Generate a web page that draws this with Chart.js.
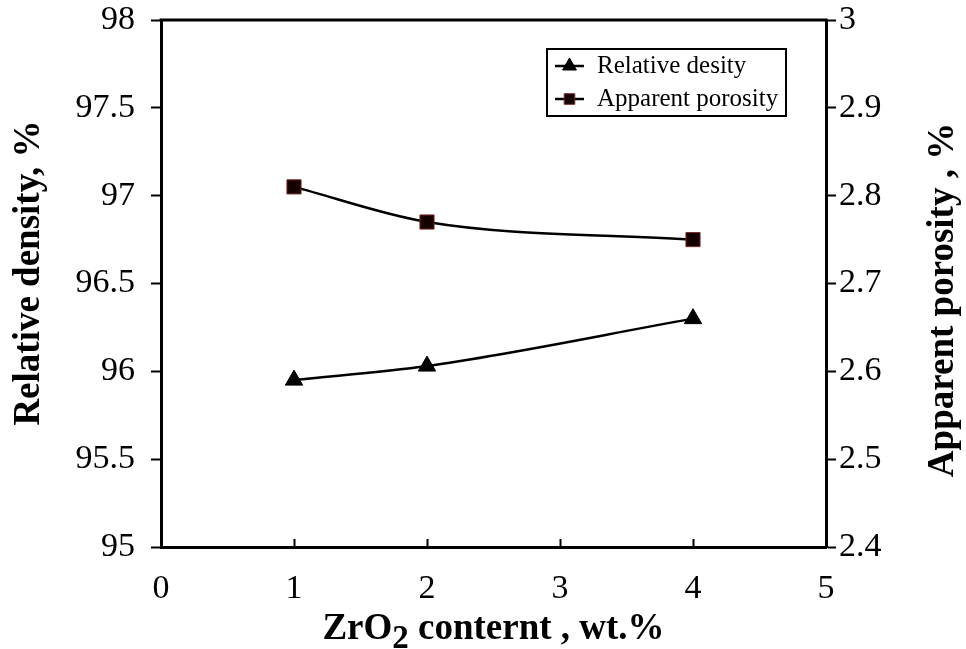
<!DOCTYPE html>
<html><head><meta charset="utf-8">
<script src="https://cdn.jsdelivr.net/npm/chart.js@4.4.1/dist/chart.umd.min.js"></script>
<style>html,body{margin:0;padding:0;background:#fff;} #wrap{width:966px;height:649px;position:relative;}</style>
</head><body><div id="wrap"><canvas id="c" width="966" height="649"></canvas></div>
<script>
const zrO2Content = [1, 2, 4];
const relativeDensity = [95.95, 96.03, 96.30];
const apparentPorosity = [2.81, 2.77, 2.75];
const xTicks = [0, 1, 2, 3, 4, 5];
const xTickLabels = ['0', '1', '2', '3', '4', '5'];
const densityTicks = [95, 95.5, 96, 96.5, 97, 97.5, 98];
const densityTickLabels = ['95', '95.5', '96', '96.5', '97', '97.5', '98'];
const porosityTicks = [2.4, 2.5, 2.6, 2.7, 2.8, 2.9, 3];
const porosityTickLabels = ['2.4', '2.5', '2.6', '2.7', '2.8', '2.9', '3'];
const seriesLabels = ['Relative desity', 'Apparent porosity'];
const yTitle = 'Relative density, %';
const y2Title = 'Apparent porosity , %';
const xTitleParts = ['ZrO', '2', ' conternt , wt.%'];

const FONT = "'Liberation Serif', 'Times New Roman', serif";
const tickFont = {family: FONT, size: 34};

const pts = (xs, ys) => xs.map((x, i) => ({x: x, y: ys[i]}));

const frame = {
  id: 'frame',
  afterDraw(chart) {
    const ctx = chart.ctx, a = chart.chartArea;
    const xs = chart.scales.x;
    ctx.save();
    ctx.strokeStyle = '#000';
    ctx.lineWidth = 3;
    ctx.beginPath();
    ctx.moveTo(a.left - 1.5, a.top);
    ctx.lineTo(a.right + 1.5, a.top);
    ctx.stroke();
    // inward x ticks
    ctx.lineWidth = 2;
    xTicks.forEach(v => {
      if (v === xs.min || v === xs.max) return;
      const px = Math.round(xs.getPixelForValue(v)) + 0.5;
      ctx.beginPath();
      ctx.moveTo(px, a.bottom);
      ctx.lineTo(px, a.bottom - 8);
      ctx.stroke();
    });
    // titles
    ctx.fillStyle = '#000';
    ctx.font = "bold 37px " + FONT;
    ctx.textAlign = 'center';
    ctx.textBaseline = 'middle';
    ctx.save();
    ctx.translate(29, 273);
    ctx.rotate(-Math.PI / 2);
    ctx.fillText(yTitle, 0, 0);
    ctx.restore();
    ctx.save();
    ctx.translate(943, 300);
    ctx.rotate(-Math.PI / 2);
    ctx.fillText(y2Title, 0, 0);
    ctx.restore();
    // x title with subscript
    ctx.textBaseline = 'alphabetic';
    ctx.textAlign = 'left';
    const mainF = "bold 37px " + FONT, subF = "bold 33px " + FONT;
    ctx.font = mainF; const w1 = ctx.measureText(xTitleParts[0]).width;
    ctx.font = subF; const w2 = ctx.measureText(xTitleParts[1]).width;
    ctx.font = mainF; const w3 = ctx.measureText(xTitleParts[2]).width;
    const cx = (a.left + a.right) / 2;
    let x0 = cx - (w1 + w2 + w3) / 2;
    const base = 639;
    ctx.font = mainF; ctx.fillText(xTitleParts[0], x0, base);
    ctx.font = subF; ctx.fillText(xTitleParts[1], x0 + w1, base + 9);
    ctx.font = mainF; ctx.fillText(xTitleParts[2], x0 + w1 + w2, base);
    // legend
    const lx = 547, ly = 49, lw = 239, lh = 67;
    ctx.lineWidth = 2;
    ctx.strokeStyle = '#000';
    ctx.strokeRect(lx, ly, lw, lh);
    ctx.font = "25px " + FONT;
    ctx.textBaseline = 'middle';
    const rows = [66, 99];
    chart.data.datasets.forEach((ds, i) => {
      const yy = rows[i];
      ctx.strokeStyle = '#000';
      ctx.lineWidth = 2.5;
      ctx.beginPath();
      ctx.moveTo(555, yy);
      ctx.lineTo(584, yy);
      ctx.stroke();
      ctx.fillStyle = ds.pointBackgroundColor;
      ctx.strokeStyle = ds.pointBorderColor;
      ctx.lineWidth = 1;
      Chart.helpers.drawPoint(ctx, {pointStyle: ds.pointStyle, radius: ds.pointStyle === 'triangle' ? 8 : 7.5, rotation: 0, borderWidth: 1}, 569.5, yy);
      ctx.fillStyle = '#000';
      ctx.fillText(ds.label, 597, yy);
    });
    ctx.restore();
  }
};

const fixV = w => s => { s.width = w; s.paddingTop = 20; s.paddingBottom = 0; };

new Chart(document.getElementById('c'), {
  type: 'line',
  data: {
    datasets: [
      {
        label: seriesLabels[0],
        data: pts(zrO2Content, relativeDensity),
        yAxisID: 'y',
        borderColor: '#000',
        borderWidth: 2.5,
        pointStyle: 'triangle',
        pointRadius: 10,
        pointBackgroundColor: '#000',
        pointBorderColor: '#000',
        pointBorderWidth: 1,
        cubicInterpolationMode: 'monotone',
        fill: false
      },
      {
        label: seriesLabels[1],
        data: pts(zrO2Content, apparentPorosity),
        yAxisID: 'y2',
        borderColor: '#000',
        borderWidth: 2.5,
        pointStyle: 'rect',
        pointRadius: 10,
        pointBackgroundColor: '#150000',
        pointBorderColor: '#7a2a2a',
        pointBorderWidth: 1,
        cubicInterpolationMode: 'monotone',
        fill: false
      }
    ]
  },
  options: {
    responsive: false,
    animation: false,
    devicePixelRatio: 1,
    layout: {padding: {top: 20, left: 0, right: 0, bottom: 0}},
    plugins: {legend: {display: false}, tooltip: {enabled: false}, title: {display: false}},
    scales: {
      x: {
        type: 'linear', position: 'bottom', min: 0, max: 5,
        afterBuildTicks: s => { s.ticks = xTicks.map(v => ({value: v})); },
        afterFit: s => { s.height = 102; s.paddingLeft = 0; s.paddingRight = 0; },
        ticks: {font: tickFont, color: '#000', padding: 22, maxRotation: 0, autoSkip: false,
                callback: (v, i) => xTickLabels[i]},
        grid: {drawOnChartArea: false, drawTicks: false, display: true},
        border: {display: true, color: '#000', width: 3}
      },
      y: {
        type: 'linear', position: 'left', min: 95, max: 98,
        afterBuildTicks: s => { s.ticks = densityTicks.map(v => ({value: v})); },
        afterFit: fixV(161),
        ticks: {font: tickFont, color: '#000', padding: 16, autoSkip: false,
                callback: (v, i) => densityTickLabels[i]},
        grid: {drawOnChartArea: false, tickLength: 10, tickColor: '#000', tickWidth: 2},
        border: {display: true, color: '#000', width: 3}
      },
      y2: {
        type: 'linear', position: 'right', min: 2.4, max: 3,
        afterBuildTicks: s => { s.ticks = porosityTicks.map(v => ({value: v})); },
        afterFit: fixV(140),
        ticks: {font: tickFont, color: '#000', padding: 3, autoSkip: false,
                callback: (v, i) => porosityTickLabels[i]},
        grid: {drawOnChartArea: false, tickLength: 10, tickColor: '#000', tickWidth: 2},
        border: {display: true, color: '#000', width: 3}
      }
    }
  },
  plugins: [frame]
});
</script></body></html>
